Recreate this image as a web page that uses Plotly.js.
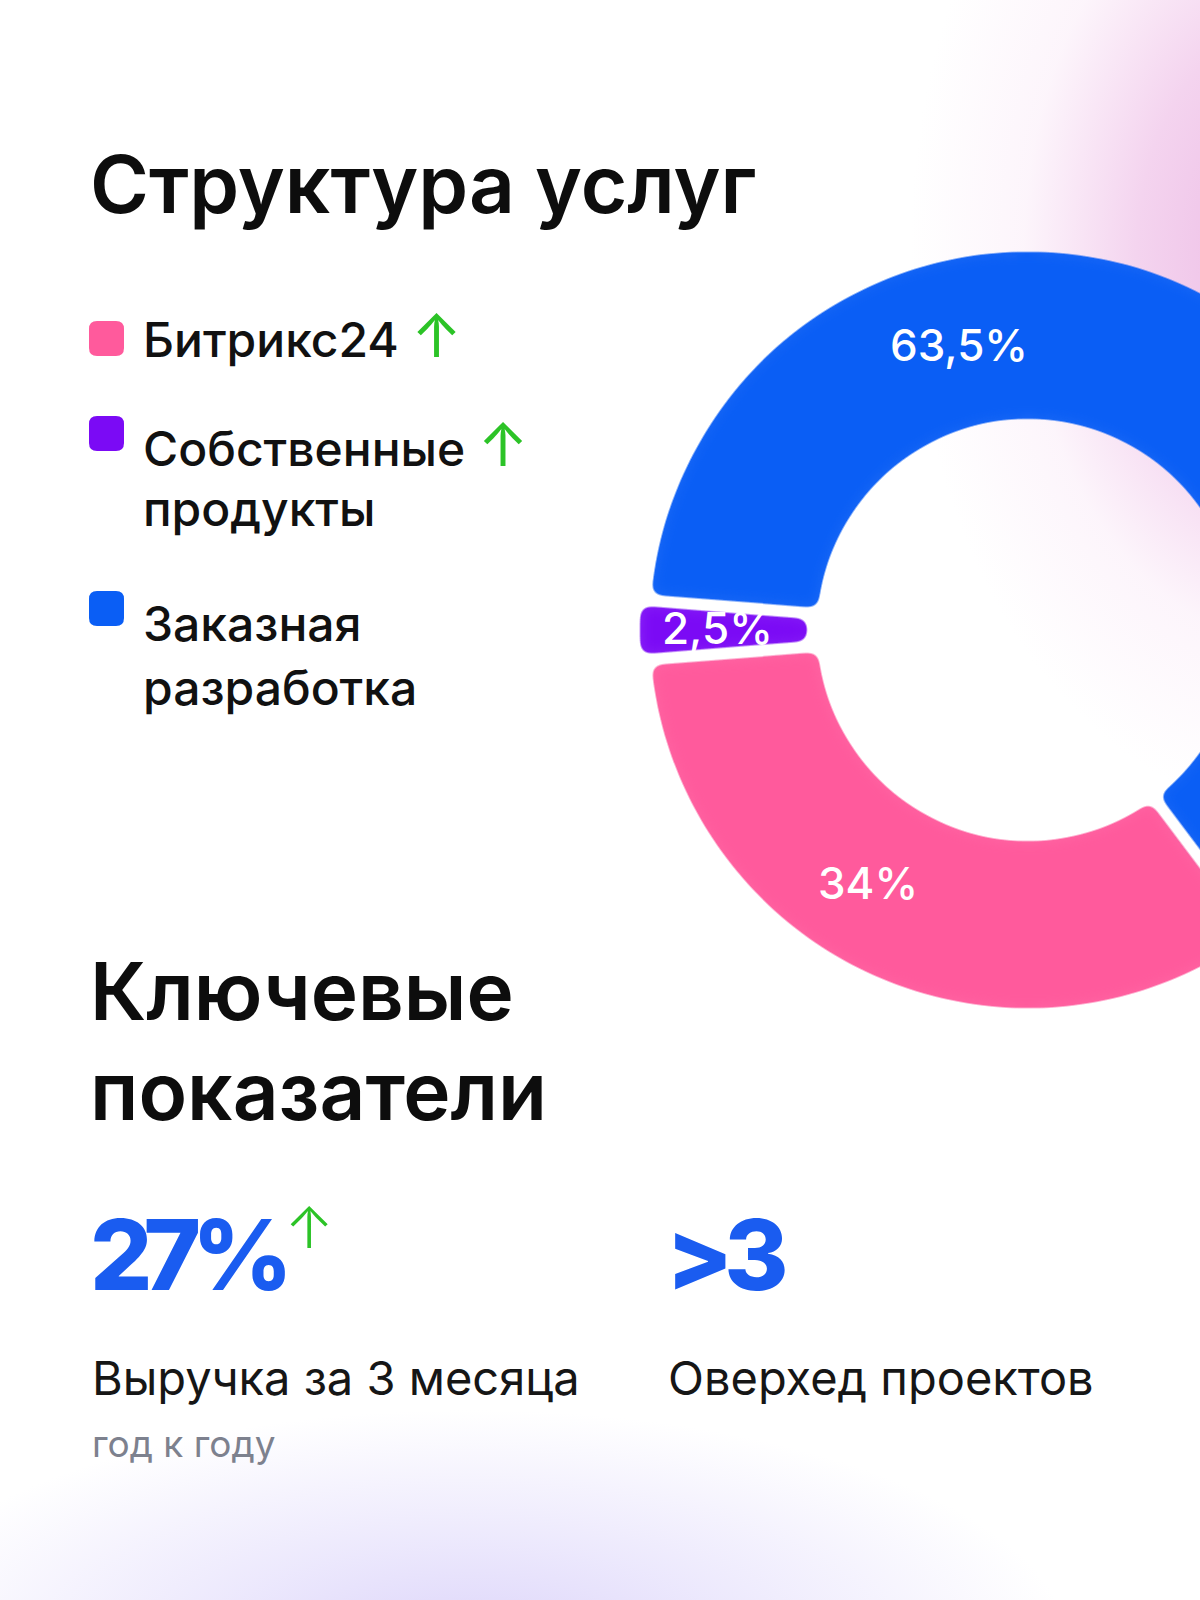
<!DOCTYPE html>
<html>
<head>
<meta charset="utf-8">
<script src="https://cdn.plot.ly/plotly-3.0.1.min.js"></script>
<style>
  html, body { margin: 0; padding: 0; width: 1200px; height: 1600px; overflow: hidden; }
  body {
    background:
      radial-gradient(ellipse 380px 560px at 1290px 250px, rgba(236,184,228,1) 0%, rgba(242,204,236,0.85) 40%, rgba(249,230,246,0.4) 70%, rgba(255,255,255,0) 100%),
      radial-gradient(ellipse 600px 240px at 470px 1650px, rgba(220,212,250,1) 0%, rgba(230,225,252,0.75) 45%, rgba(255,255,255,0) 100%),
      #ffffff;
  }
  #chart { width: 1440px; height: 1600px; }
  /* скругление углов секторов */
  .pielayer { filter: url(#rounded); }
</style>
</head>
<body>
<svg width="0" height="0" style="position:absolute">
  <filter id="rounded" x="-10%" y="-10%" width="120%" height="120%" color-interpolation-filters="sRGB">
    <feColorMatrix type="matrix" values="1 0 0 0 0  0 1 0 0 0  0 0 1 0 0  0 -3 0 3 0"/>
    <feGaussianBlur stdDeviation="6"/>
    <feComponentTransfer><feFuncA type="linear" slope="8" intercept="-3.5"/></feComponentTransfer>
  </filter>
</svg>
<div id="chart"></div>
<script>
// Структура услуг, %
const labels = ["Заказная разработка", "Битрикс24", "Собственные продукты"];
const values = [63.5, 34, 2.5];
const colors = ["#0a5ef5", "#ff5a9c", "#7b0af5"];

// порядок в легенде и рост
const legendOrder = [1, 2, 0];
const legendGrowth = [true, true, false];

// Ключевые показатели
const kpiValues = ["27%", ">3"];
const kpiNames = ["Выручка за 3 месяца", "Оверхед проектов"];
const kpiNotes = ["год к году", ""];
const kpiGrowth = [true, false];

const W = 1440;
const H = 1600;
const FONT = 'Inter, "Noto Sans", "DejaVu Sans", sans-serif';
const GREEN = "#2cc327";
const px = x => x / W;
const py = y => 1 - y / H;

const txt = (x, y, text, size, color, weight, anchor) => ({
  xref: "paper", yref: "paper", x: px(x), y: py(y),
  xanchor: anchor || "left", yanchor: "middle",
  text: text, showarrow: false,
  font: { family: FONT, size: size, color: color || "#111111", weight: weight || 400 }
});

const roundRect = (x, y, s, r) => {
  const p = (a, b) => `${px(a)},${py(b)}`;
  return `M${p(x + r, y)} L${p(x + s - r, y)} Q${p(x + s, y)} ${p(x + s, y + r)} ` +
    `L${p(x + s, y + s - r)} Q${p(x + s, y + s)} ${p(x + s - r, y + s)} ` +
    `L${p(x + r, y + s)} Q${p(x, y + s)} ${p(x, y + s - r)} ` +
    `L${p(x, y + r)} Q${p(x, y)} ${p(x + r, y)} Z`;
};

const fmt = v => String(v).replace(".", ",") + "%";

let annotations = [];
let shapes = [];

// заголовки
annotations.push(txt(88, 183, "Структура услуг", 80, "#0d0d0d", 600));
annotations.push(txt(88, 990, "Ключевые", 80, "#0d0d0d", 600));
annotations.push(txt(88, 1090, "показатели", 80, "#0d0d0d", 600));

// легенда
const rowTextY = [335, 444, 623];
const rowSquareY = [321, 416, 591];
for (let i = 0; i < legendOrder.length; i++) {
  const k = legendOrder[i];
  const lines = labels[k].split(" ");
  for (let j = 0; j < lines.length; j++) {
    let t = lines[j];
    if (j == 0 && legendGrowth[i]) {
      t += ` <span style="color:${GREEN};font-size:60px;font-weight:400">↑</span>`;
    }
    annotations.push(txt(141, rowTextY[i] + j * 64, t, 48, "#111111", 500));
  }
  shapes.push({
    type: "path", xref: "paper", yref: "paper",
    path: roundRect(89, rowSquareY[i], 35, 8),
    fillcolor: colors[k], line: { width: 0 }
  });
}

// подписи секторов
const slicePos = [[959, 345], [868, 883], [717, 628]];
for (let i = 0; i < values.length; i++) {
  annotations.push(txt(slicePos[i][0], slicePos[i][1], fmt(values[i]), 44, "#ffffff", 500, "center"));
}

// показатели
const kpiX = [88, 664];
for (let i = 0; i < kpiValues.length; i++) {
  annotations.push(txt(kpiX[i], 1254,
    `<span style="letter-spacing:-9px">${kpiValues[i]}</span>`, 98, "#1a5cf0", 800));
  annotations.push(txt(kpiX[i] + 2, 1377, kpiNames[i], 47, "#161616", 400));
  if (kpiNotes[i]) annotations.push(txt(kpiX[i] + 2, 1443, kpiNotes[i], 37, "#7d818e", 400));
  if (kpiGrowth[i]) annotations.push(txt(309, 1227, "↑", 58, GREEN, 300, "center"));
}

const data = [{
  type: "pie",
  labels: labels,
  values: values,
  sort: false,
  direction: "clockwise",
  rotation: -85.5,
  hole: 0.535,
  pull: [0, 0, 0.025],
  marker: { colors: colors, line: { color: "#ffffff", width: 12 } },
  textinfo: "none",
  hoverinfo: "skip",
  showlegend: false,
  domain: { x: [px(634.4), px(1421.6)], y: [py(1023.6), py(236.4)] }
}];

const layout = {
  width: W,
  height: H,
  margin: { l: 0, r: 0, t: 0, b: 0 },
  paper_bgcolor: "rgba(0,0,0,0)",
  plot_bgcolor: "rgba(0,0,0,0)",
  showlegend: false,
  annotations: annotations,
  shapes: shapes
};

Plotly.newPlot("chart", data, layout, { displayModeBar: false, staticPlot: true });
</script>
</body>
</html>
